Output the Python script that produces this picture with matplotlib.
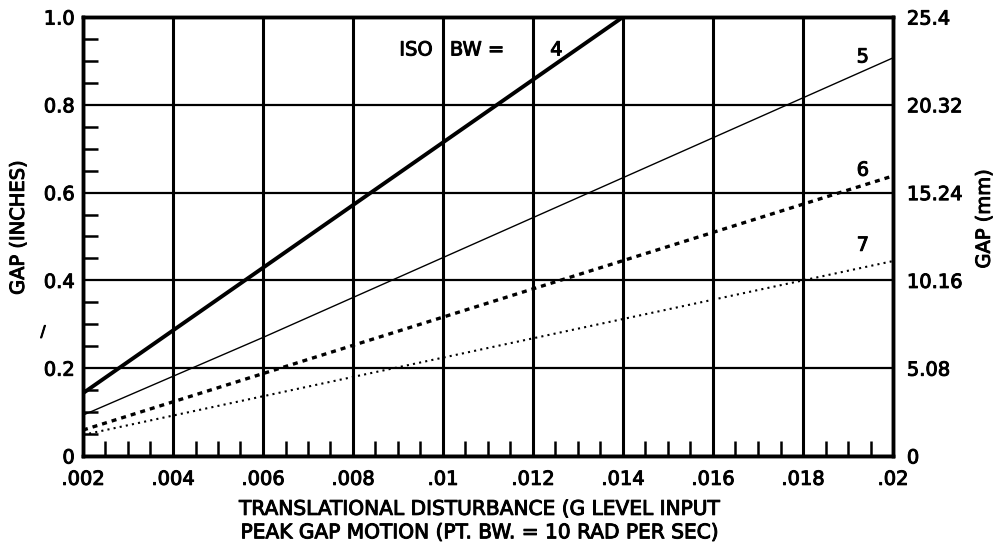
import numpy as np
import matplotlib
matplotlib.use("Agg")
import matplotlib.pyplot as plt
import matplotlib.patheffects as pe
from matplotlib.ticker import MultipleLocator

plt.rcParams['font.family'] = ['DejaVu Sans']

# disturbance input (g level)
x_ticks = [0.002, 0.004, 0.006, 0.008, 0.01, 0.012, 0.014, 0.016, 0.018, 0.02]
x_labels = ['.002', '.004', '.006', '.008', '.01', '.012', '.014', '.016', '.018', '.02']
y_ticks = [0, 0.2, 0.4, 0.6, 0.8, 1.0]
y_labels = ['0', '0.2', '0.4', '0.6', '0.8', '1.0']
mm_ticks = [0, 5.08, 10.16, 15.24, 20.32, 25.4]
mm_labels = ['0', '5.08', '10.16', '15.24', '20.32', '25.4']

# gap (inches) vs disturbance, per ISO bandwidth
bw4_x = [0.002, 0.004, 0.014]
bw4_y = [0.143, 0.286, 1.0]
bw5_x = [0.002, 0.006, 0.02]
bw5_y = [0.093, 0.270, 0.907]
bw6_x = [0.002, 0.02]
bw6_y = [0.059, 0.638]
bw7_x = [0.002, 0.02]
bw7_y = [0.048, 0.444]

fs = 14
heavy = [pe.withStroke(linewidth=0.7, foreground='black')]

fig = plt.figure(figsize=(10, 5.5), dpi=100)
ax = fig.add_axes([0.083, 0.171, 0.810, 0.798])

for xv in x_ticks:
    ax.axvline(xv, color='black', lw=2.2, zorder=1)
for yv in y_ticks:
    ax.axhline(yv, color='black', lw=1.6, zorder=1)

ax.plot(bw4_x, bw4_y, color='black', lw=2.8, zorder=3)
ax.plot(bw5_x, bw5_y, color='black', lw=1.0, zorder=3)
ax.plot(bw6_x, bw6_y, color='black', lw=2.4, ls=(0, (1.5, 1.5)), zorder=3)
ax.plot(bw7_x, bw7_y, color='black', lw=1.5, ls=(0, (1, 2)), zorder=3)

ax.set_xlim(0.002, 0.02)
ax.set_ylim(0, 1.0)
ax.set_xticks(x_ticks)
ax.set_xticklabels(x_labels, fontsize=fs)
ax.set_yticks(y_ticks)
ax.set_yticklabels(y_labels, fontsize=fs)
ax.xaxis.set_minor_locator(MultipleLocator(0.0005))
ax.yaxis.set_minor_locator(MultipleLocator(0.05))
ax.tick_params(axis='x', which='major', length=0, pad=10)
ax.tick_params(axis='y', which='major', length=0, pad=6)
ax.tick_params(which='minor', direction='in', length=11, width=1.8,
               top=False, right=False)
for s in ax.spines.values():
    s.set_linewidth(2.5)

ax.set_ylabel('GAP (INCHES)', fontsize=fs)
ax.yaxis.set_label_coords(-0.068, 0.52)
ax.set_xlabel('TRANSLATIONAL DISTURBANCE (G LEVEL INPUT\nPEAK GAP MOTION (PT. BW. = 10 RAD PER SEC)',
              fontsize=fs + 0.5, linespacing=1.3, va='top')
ax.xaxis.set_label_coords(0.49, -0.10)

ax2 = ax.twinx()
ax2.set_ylim(0, 25.4)
ax2.set_yticks(mm_ticks)
ax2.set_yticklabels(mm_labels, fontsize=fs)
ax2.tick_params(length=0, pad=10)
ax2.set_ylabel('GAP (mm)', fontsize=fs)
ax2.yaxis.set_label_coords(1.101, 0.54)
for s in ax2.spines.values():
    s.set_linewidth(2.5)

ax.text(0.0094, 0.925, 'ISO', fontsize=fs, ha='center', va='center', zorder=4)
ax.text(0.01076, 0.925, 'BW =', fontsize=fs, ha='center', va='center', zorder=4)
ax.text(0.01252, 0.925, '4', fontsize=fs, ha='center', va='center', zorder=4)
ax.text(0.01933, 0.909, '5', fontsize=fs, ha='center', va='center')
ax.text(0.01933, 0.651, '6', fontsize=fs, ha='center', va='center')
ax.text(0.01933, 0.48, '7', fontsize=fs, ha='center', va='center')

# small stray mark left of the axis in the original scan
fig.text(0.043, 1 - 332 / 550, '/', fontsize=11, ha='center', va='center')

# heavier glyphs, like the printed original
for t in (ax.get_xticklabels() + ax.get_yticklabels() + ax2.get_yticklabels()
          + ax.texts + fig.texts + [ax.xaxis.label, ax.yaxis.label, ax2.yaxis.label]):
    t.set_path_effects(heavy)

fig.savefig('out.png', dpi=100)
